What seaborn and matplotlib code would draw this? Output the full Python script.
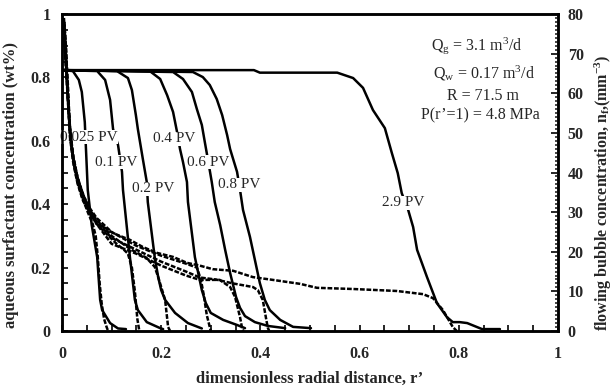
import matplotlib
matplotlib.use("Agg")
import matplotlib.pyplot as plt
from matplotlib.ticker import MultipleLocator, FuncFormatter
import seaborn as sns
import pandas as pd

# ---- aqueous surfactant concentration (wt%) vs r' ----
r_025 = [0.0, 0.022, 0.034, 0.040, 0.046, 0.052, 0.060, 0.071, 0.077, 0.081, 0.097, 0.113, 0.129]
c_025 = [0.823, 0.820, 0.792, 0.754, 0.659, 0.445, 0.334, 0.233, 0.098, 0.066, 0.025, 0.008, 0.006]

r_01 = [0.0, 0.071, 0.087, 0.097, 0.103, 0.113, 0.121, 0.123, 0.137, 0.147, 0.153, 0.171, 0.198, 0.204]
c_01 = [0.823, 0.820, 0.792, 0.729, 0.637, 0.587, 0.502, 0.445, 0.233, 0.098, 0.066, 0.028, 0.009, 0.006]

r_02 = [0.0, 0.111, 0.133, 0.141, 0.149, 0.153, 0.163, 0.171, 0.173, 0.187, 0.194, 0.200, 0.208, 0.228, 0.254, 0.282]
c_02 = [0.823, 0.820, 0.798, 0.760, 0.681, 0.637, 0.543, 0.470, 0.407, 0.233, 0.170, 0.129, 0.098, 0.057, 0.025, 0.008]

r_04 = [0.0, 0.177, 0.198, 0.212, 0.224, 0.232, 0.238, 0.244, 0.252, 0.254, 0.268, 0.282, 0.290, 0.300, 0.325, 0.353, 0.369]
c_04 = [0.823, 0.820, 0.795, 0.744, 0.691, 0.628, 0.574, 0.533, 0.470, 0.407, 0.233, 0.129, 0.088, 0.057, 0.035, 0.019, 0.009]

r_06 = [0.0, 0.224, 0.244, 0.262, 0.272, 0.282, 0.288, 0.294, 0.302, 0.308, 0.319, 0.329, 0.339,
        0.351, 0.359, 0.369, 0.389, 0.415, 0.450]
c_06 = [0.823, 0.817, 0.795, 0.754, 0.700, 0.650, 0.596, 0.543, 0.470, 0.407, 0.334, 0.256, 0.183,
        0.107, 0.073, 0.047, 0.028, 0.016, 0.009]

r_08 = [0.0, 0.264, 0.284, 0.298, 0.312, 0.323, 0.333, 0.339, 0.345, 0.353, 0.359, 0.365, 0.379,
        0.389, 0.399, 0.409, 0.419, 0.440, 0.466, 0.502]
c_08 = [0.823, 0.817, 0.801, 0.776, 0.732, 0.681, 0.618, 0.574, 0.543, 0.502, 0.445, 0.382, 0.297,
        0.224, 0.151, 0.098, 0.066, 0.035, 0.013, 0.009]

r_29 = [0.0, 0.387, 0.399, 0.555, 0.587, 0.607, 0.627, 0.651, 0.665, 0.677, 0.685, 0.698, 0.708,
        0.716, 0.736, 0.756, 0.776, 0.788, 0.802, 0.817, 0.847, 0.883]
c_29 = [0.823, 0.823, 0.815, 0.815, 0.798, 0.767, 0.697, 0.640, 0.562, 0.498, 0.435, 0.382, 0.328,
        0.256, 0.170, 0.088, 0.044, 0.028, 0.028, 0.025, 0.006, 0.006]

# ---- flowing bubble concentration (mm^-3) vs r' ----
rb_025 = [0.004, 0.008, 0.012, 0.016, 0.022, 0.030, 0.040, 0.052, 0.062, 0.068, 0.072, 0.076, 0.080, 0.085, 0.090, 0.093]
nb_025 = [74, 68, 58, 49, 43, 38, 34, 30, 27, 24, 19, 12, 7, 3, 1, 0]

rb_01 = [0.005, 0.009, 0.013, 0.018, 0.024, 0.032, 0.042, 0.055, 0.070, 0.090, 0.110, 0.125, 0.133, 0.141, 0.147, 0.152, 0.156]
nb_01 = [77, 66, 56, 48, 42, 37, 33, 30, 27, 24.5, 22, 20.5, 19.5, 16, 10, 3, 0]

rb_02 = [0.004, 0.008, 0.012, 0.017, 0.023, 0.031, 0.041, 0.054, 0.070, 0.100, 0.140, 0.170, 0.187, 0.194, 0.202, 0.208, 0.214, 0.218]
nb_02 = [79, 70, 59, 50, 44, 39, 35, 31, 28, 24, 20.5, 18.5, 16.2, 13.6, 10.3, 7.8, 1, 0]

rb_04 = [0.005, 0.009, 0.014, 0.019, 0.025, 0.033, 0.044, 0.056, 0.070, 0.100, 0.150, 0.200, 0.250,
         0.272, 0.280, 0.286, 0.292, 0.298, 0.300]
nb_04 = [73, 64, 55, 47, 42, 38, 34, 31, 28.5, 25, 21.5, 19, 17, 16, 13, 9, 4, 1, 0]

rb_06 = [0.004, 0.007, 0.011, 0.015, 0.021, 0.029, 0.039, 0.051, 0.070, 0.100, 0.150, 0.200, 0.250,
         0.278, 0.318, 0.339, 0.349, 0.359, 0.363, 0.366]
nb_06 = [76, 69, 61, 52, 45, 40, 35, 31, 27, 22, 19.5, 16.5, 14, 12.9, 12.9, 11.1, 8.6, 3.5, 0.8, 0]

rb_08 = [0.005, 0.008, 0.012, 0.016, 0.022, 0.030, 0.040, 0.052, 0.070, 0.100, 0.150, 0.200, 0.250,
         0.278, 0.310, 0.345, 0.385, 0.395, 0.405, 0.411, 0.415, 0.418]
nb_08 = [78, 71, 62, 51, 44, 39, 35, 31, 27.5, 23.5, 20.5, 17.5, 15, 13.5, 13, 12, 11.1, 10.3, 7.8, 3.5, 0.8, 0]

rb_29 = [0.004, 0.008, 0.012, 0.016, 0.024, 0.036, 0.052, 0.071, 0.103, 0.137, 0.163, 0.192, 0.224,
         0.252, 0.278, 0.304, 0.345, 0.385, 0.425, 0.480, 0.514, 0.587, 0.675, 0.728, 0.748, 0.768,
         0.788, 0.796]
nb_29 = [78, 72, 60, 50, 42, 36, 31, 27.3, 24.7, 23.0, 21.2, 19.7, 18.7, 17.2, 16.5, 15.6, 15.2,
         13.6, 12.9, 11.9, 10.9, 10.6, 10.1, 9.3, 8.3, 5.3, 1.0, 0]

pv_labels = ["0.025 PV", "0.1 PV", "0.2 PV", "0.4 PV", "0.6 PV", "0.8 PV", "2.9 PV"]
label_r = [0.054, 0.109, 0.183, 0.227, 0.294, 0.357, 0.688]
label_c = [0.612, 0.533, 0.448, 0.606, 0.533, 0.461, 0.404]

surf_curves = [(r_025, c_025), (r_01, c_01), (r_02, c_02), (r_04, c_04),
               (r_06, c_06), (r_08, c_08), (r_29, c_29)]
bubble_curves = [(rb_025, nb_025), (rb_01, nb_01), (rb_02, nb_02), (rb_04, nb_04),
                 (rb_06, nb_06), (rb_08, nb_08), (rb_29, nb_29)]

sns.set_theme(style="ticks")
plt.rcParams["font.family"] = ["Liberation Serif", "DejaVu Serif"]
plt.rcParams["mathtext.fontset"] = "custom"
plt.rcParams["mathtext.rm"] = "Liberation Serif"
plt.rcParams["mathtext.it"] = "Liberation Serif:italic"
plt.rcParams["mathtext.bf"] = "Liberation Serif:bold"

fig = plt.figure(figsize=(6.13, 3.87), dpi=100)
ax = fig.add_axes([0.1011, 0.1447, 0.8091, 0.8191])
ax2 = ax.twinx()

surf = pd.concat([pd.DataFrame({"r": r, "c": c, "pv": lab})
                  for (r, c), lab in zip(surf_curves, pv_labels)], ignore_index=True)
bub = pd.concat([pd.DataFrame({"r": r, "n": n, "pv": lab})
                 for (r, n), lab in zip(bubble_curves, pv_labels)], ignore_index=True)

sns.lineplot(data=surf, x="r", y="c", units="pv", estimator=None, sort=False,
             color="black", linewidth=1.8, ax=ax, legend=False)
sns.lineplot(data=bub, x="r", y="n", units="pv", estimator=None, sort=False,
             color="black", linewidth=1.8, dashes=False, ax=ax2, legend=False)
for line in ax2.get_lines():
    line.set_dashes((1.9, 0.7))

for lab, xr, yc in zip(pv_labels, label_r, label_c):
    ax.text(xr, yc, lab, ha="center", va="center", fontsize=11, zorder=5,
            bbox=dict(facecolor="white", edgecolor="none", pad=0.4))

ax.text(0.837, 0.902, r"Q$_\mathregular{g}$ = 3.1 m$^\mathregular{3}$/d", ha="center", va="center", fontsize=11.5)
ax.text(0.851, 0.814, r"Q$_\mathregular{w}$ = 0.17 m$^\mathregular{3}$/d", ha="center", va="center", fontsize=11.5)
ax.text(0.849, 0.740, "R = 71.5 m", ha="center", va="center", fontsize=11.5)
ax.text(0.843, 0.680, "P(r\u2019=1) = 4.8 MPa", ha="center", va="center", fontsize=11.5)

ax.set_xlim(0, 1)
ax.set_ylim(0, 1)
ax2.set_ylim(0, 80)

ax.xaxis.set_major_locator(MultipleLocator(0.2))
ax.xaxis.set_minor_locator(MultipleLocator(0.05))
ax.yaxis.set_major_locator(MultipleLocator(0.2))
ax.yaxis.set_minor_locator(MultipleLocator(0.05))
ax2.yaxis.set_major_locator(MultipleLocator(10))
ax2.yaxis.set_minor_locator(MultipleLocator(1))

fmt = FuncFormatter(lambda v, p: "%g" % round(v, 2))
ax.xaxis.set_major_formatter(fmt)
ax.yaxis.set_major_formatter(fmt)

ax.tick_params(axis="both", which="major", direction="in", length=4.5, width=1.4,
               labelsize=11.5, pad=8, top=False, right=False)
ax.tick_params(axis="x", which="major", pad=11)
ax.tick_params(axis="both", which="minor", direction="in", length=4.5, width=1.4,
               top=False, right=False)
ax2.tick_params(axis="y", which="major", direction="in", length=5, width=1.4, labelsize=11.5, pad=7)
ax2.tick_params(axis="y", which="minor", direction="in", length=2.5, width=1.2)
for t in ax.get_xticklabels() + ax.get_yticklabels() + ax2.get_yticklabels():
    t.set_fontweight("bold")

for a in (ax, ax2):
    for s in a.spines.values():
        s.set_linewidth(1.8)
        s.set_color("black")

ax.set_xlabel("dimensionless radial distance, r\u2019", fontsize=12, fontweight="bold", labelpad=6)
ax.set_ylabel("aqueous surfactant concentration (wt%)", fontsize=12, fontweight="bold")
ax.yaxis.set_label_coords(-0.086, 0.46)
ax2.set_ylabel(r"flowing bubble concentration, n$_\mathregular{f}$,(mm$^\mathregular{-3}$)",
               fontsize=11.5, fontweight="bold", loc="bottom")
ax2.yaxis.set_label_coords(1.071, 0.0)

fig.savefig("out.png", dpi=100)
